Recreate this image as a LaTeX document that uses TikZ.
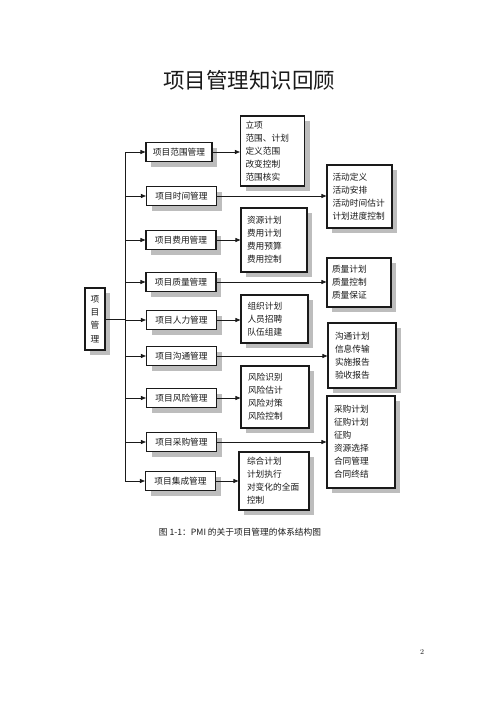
\documentclass[tikz,border=0pt]{standalone}
\usepackage{fontspec}
\usepackage{tikz}
\usetikzlibrary{arrows.meta,shadows}
\newfontfamily\cjk{Noto Sans CJK SC}
\definecolor{boxline}{HTML}{1A1A1A}
\definecolor{shadowgray}{HTML}{BDBDBD}

\begin{document}
\begin{tikzpicture}[x=1pt,y=-1pt,
  text=boxline,
  nodebox/.style={draw=boxline,line width=1.1pt,fill=white,
    drop shadow={shadow xshift=5pt,shadow yshift=-5pt,fill=shadowgray,opacity=1},
    font=\cjk\fontsize{8.7}{13}\selectfont},
  areabox/.style={nodebox,minimum width=70pt,minimum height=19pt,inner sep=0pt},
  listbox/.style={nodebox,text width=54pt,align=left,inner xsep=5pt,inner ysep=2pt},
  rootbox/.style={nodebox,minimum width=20pt,minimum height=62pt,inner sep=0pt,align=center},
  link/.style={draw=boxline,line width=0.8pt},
  connector/.style={link,-{Triangle[length=5pt,width=4pt]}}
]
\path[use as bounding box,fill=white] (0,0) rectangle (500,707);

% Title
\node[font=\cjk\fontsize{21.5}{24}\selectfont] (title) at (249,80) {项目管理知识回顾};

% Root
\node[rootbox,font=\cjk\fontsize{8.7}{13.3}\selectfont] (root) at (95,319) {项\\目\\管\\理};

% Knowledge areas
\node[areabox,minimum width=66pt] (scope) at (179,152) {项目范围管理};
\node[areabox] (time) at (181.5,196) {项目时间管理};
\node[areabox] (cost) at (181,240) {项目费用管理};
\node[areabox] (quality) at (181,282) {项目质量管理};
\node[areabox] (hr) at (181.5,320) {项目人力管理};
\node[areabox] (comm) at (181.5,356) {项目沟通管理};
\node[areabox] (risk) at (181.5,398) {项目风险管理};
\node[areabox] (proc) at (181.5,442) {项目采购管理};
\node[areabox] (integ) at (180.5,481) {项目集成管理};

% Processes of each area
\node[listbox,minimum width=63pt,minimum height=70pt] (scopelist) at (272.5,151) {立项\\范围、计划\\定义范围\\改变控制\\范围核实};
\node[listbox,minimum width=65pt,minimum height=63pt] (timelist) at (359.5,196.5) {活动定义\\活动安排\\活动时间估计\\计划进度控制};
\node[listbox,minimum width=66pt,minimum height=64pt] (costlist) at (274,240) {资源计划\\费用计划\\费用预算\\费用控制};
\node[listbox,minimum width=64pt,minimum height=49pt] (qualitylist) at (359,282.5) {质量计划\\质量控制\\质量保证};
\node[listbox,minimum width=67pt,minimum height=48pt] (hrlist) at (274.5,319) {组织计划\\人员招聘\\队伍组建};
\node[listbox,minimum width=68pt,minimum height=65pt] (commlist) at (362,355.5) {沟通计划\\信息传输\\实施报告\\验收报告};
\node[listbox,minimum width=68pt,minimum height=62pt] (risklist) at (275,397) {风险识别\\风险估计\\风险对策\\风险控制};
\node[listbox,minimum width=68pt,minimum height=92pt] (proclist) at (361,442) {采购计划\\征购计划\\征购\\资源选择\\合同管理\\合同终结};
\node[listbox,minimum width=70pt,minimum height=58pt] (integlist) at (274,481) {综合计划\\计划执行\\对变化的全面\\控制};

% Trunk
\coordinate (trunk) at (125,152);
\draw[link] (trunk |- scope) -- (trunk |- integ);
\draw[link] (root.east) -- (trunk |- root.east);
\foreach \n in {scope,time,cost,quality,hr,comm,risk,proc,integ}
  \draw[connector] (trunk |- \n) -- (\n.west);

% Area to process list
\foreach \n in {scope,time,cost,quality,hr,comm,risk,proc,integ}
  \draw[connector] (\n.east) -- (\n list.west |- \n.east);

% Caption and page number
\node[font=\cjk\fontsize{8.7}{10}\selectfont] (caption) at (240,532) {图 1-1：PMI 的关于项目管理的体系结构图};
\node[font=\fontsize{7.5}{9}\selectfont] (pagenum) at (422,652) {2};

\end{tikzpicture}
\end{document}
